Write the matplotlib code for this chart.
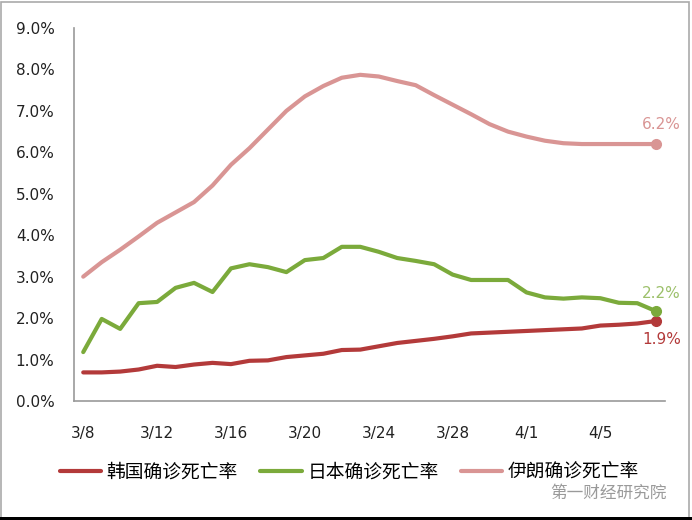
import matplotlib
matplotlib.use("Agg")
import matplotlib.pyplot as plt
from matplotlib.patches import Rectangle

plt.rcParams['font.family'] = ['Noto Sans CJK SC', 'DejaVu Sans']

dates = ["3/8", "3/9", "3/10", "3/11", "3/12", "3/13", "3/14", "3/15", "3/16", "3/17",
         "3/18", "3/19", "3/20", "3/21", "3/22", "3/23", "3/24", "3/25", "3/26", "3/27",
         "3/28", "3/29", "3/30", "3/31", "4/1", "4/2", "4/3", "4/4", "4/5", "4/6",
         "4/7", "4/8"]
korea = [0.69, 0.69, 0.71, 0.76, 0.85, 0.82, 0.88, 0.92, 0.89, 0.97,
         0.98, 1.06, 1.10, 1.14, 1.23, 1.24, 1.32, 1.40, 1.45, 1.50,
         1.56, 1.63, 1.65, 1.67, 1.69, 1.71, 1.73, 1.75, 1.82, 1.84,
         1.87, 1.93]
japan = [1.18, 1.98, 1.74, 2.36, 2.39, 2.73, 2.85, 2.63, 3.20, 3.30,
         3.23, 3.11, 3.40, 3.45, 3.72, 3.72, 3.60, 3.45, 3.38, 3.30,
         3.05, 2.92, 2.92, 2.92, 2.62, 2.50, 2.47, 2.50, 2.48, 2.37,
         2.36, 2.17]
iran = [3.00, 3.35, 3.65, 3.97, 4.30, 4.55, 4.80, 5.20, 5.70, 6.10,
        6.55, 7.00, 7.35, 7.60, 7.80, 7.87, 7.83, 7.72, 7.62, 7.38,
        7.15, 6.92, 6.68, 6.50, 6.38, 6.28, 6.22, 6.20, 6.20, 6.20,
        6.20, 6.20]
series_names = ["韩国确诊死亡率", "日本确诊死亡率", "伊朗确诊死亡率"]
end_labels = ["1.9%", "2.2%", "6.2%"]
yticks = [0, 1, 2, 3, 4, 5, 6, 7, 8, 9]
tick_every = 4

colors = ["#B33A3A", "#7BAA3B", "#D99594"]

fig = plt.figure(figsize=(6.92, 5.2), dpi=100)
ax = fig.add_axes([74/692, 1-401/520, (665-74)/692, (401-28)/520])

x = list(range(len(dates)))
for vals, c, name in zip([korea, japan, iran], colors, series_names):
    ax.plot(x, vals, color=c, lw=3.0, label=name, solid_capstyle='round',
            solid_joinstyle='round')
    ax.plot(x[-1], vals[-1], 'o', color=c, ms=7)

ax.annotate(end_labels[2], (x[-1], iran[-1]), xytext=(4, 9), textcoords='offset points',
            ha='center', va='bottom', color=colors[2], fontsize=11, family='DejaVu Sans')
ax.annotate(end_labels[1], (x[-1], japan[-1]), xytext=(4, 7), textcoords='offset points',
            ha='center', va='bottom', color='#9CC06A', fontsize=11, family='DejaVu Sans')
ax.annotate(end_labels[0], (x[-1], korea[-1]), xytext=(4, -8), textcoords='offset points',
            ha='center', va='top', color=colors[0], fontsize=11, family='DejaVu Sans')

ax.set_xlim(-0.5, len(dates) - 0.5)
ax.set_ylim(0, 9)
ax.set_yticks(yticks)
ax.set_yticklabels([f"{v:.1f}%" for v in yticks], fontsize=11, family='DejaVu Sans')
ax.set_xticks(x[::tick_every])
ax.set_xticklabels(dates[::tick_every], fontsize=11, family='DejaVu Sans')
ax.tick_params(axis='both', length=0, colors='#222222')
ax.tick_params(axis='x', pad=18)
ax.tick_params(axis='y', pad=14)
for s in ['top', 'right']:
    ax.spines[s].set_visible(False)
for s in ['left', 'bottom']:
    ax.spines[s].set_color('#999999')
    ax.spines[s].set_linewidth(1.2)

leg = fig.legend(loc='center', bbox_to_anchor=(0.505, 1-472/520), ncol=3, frameon=False,
                 fontsize=13.5, handlelength=2.2, columnspacing=1.2, handletextpad=0.3)

fig.text(0.963, 1-493/520, "第一财经研究院", ha='right', va='center', fontsize=12,
         color='#9a9a9a')

fig.patches.append(Rectangle((0.002, 0.004), 0.994, 0.992, transform=fig.transFigure,
                             fill=False, edgecolor='#aaaaaa', lw=1.2))
fig.patches.append(Rectangle((0, 0), 1, 0.005, transform=fig.transFigure,
                             facecolor='black', edgecolor='none'))

fig.savefig("out.png", dpi=100)
